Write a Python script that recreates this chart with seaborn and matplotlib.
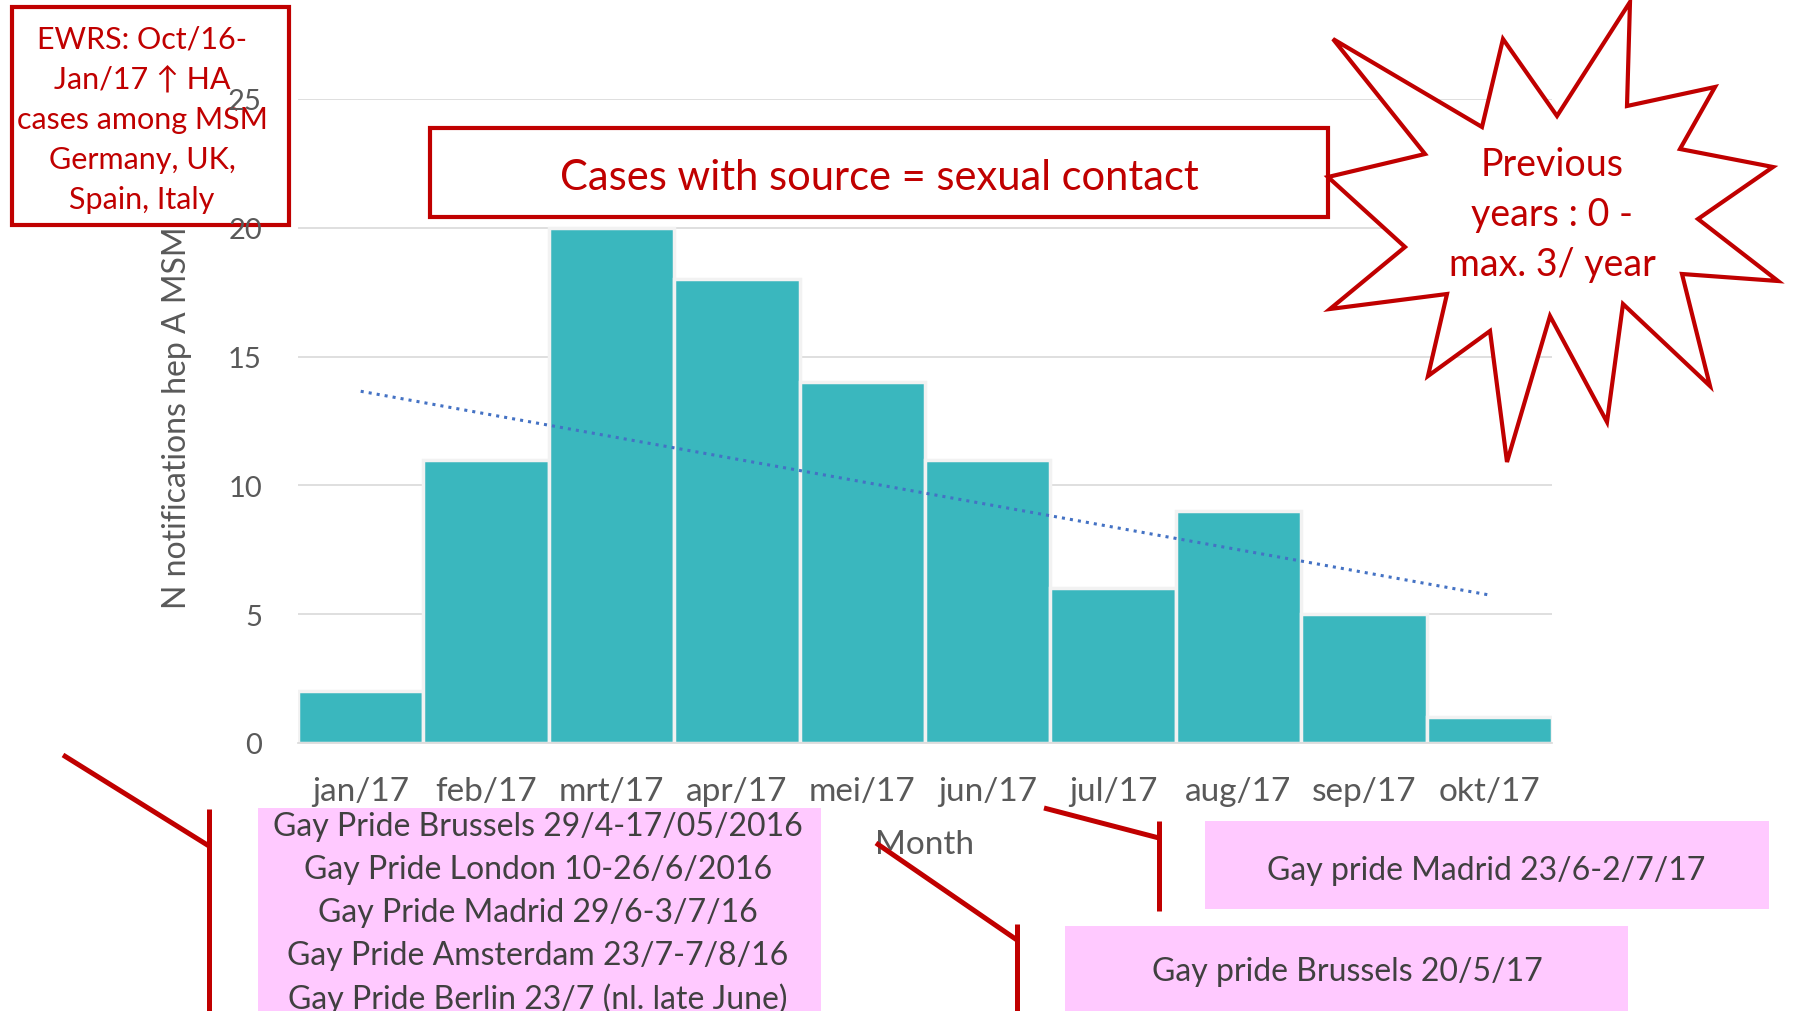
import numpy as np
import matplotlib
matplotlib.use("Agg")
import matplotlib.pyplot as plt
import matplotlib.transforms as mtransforms
from matplotlib.patches import Rectangle, Polygon
from matplotlib.lines import Line2D
import seaborn as sns

# data
months = ["jan/17", "feb/17", "mrt/17", "apr/17", "mei/17",
          "jun/17", "jul/17", "aug/17", "sep/17", "okt/17"]
counts = [2, 11, 20, 18, 14, 11, 6, 9, 5, 1]
yticks = [0, 5, 10, 15, 20, 25]

title_txt = "Cases with source = sexual contact"
ewrs_lines = ["EWRS: Oct/16-", "Jan/17 \u2191 HA", "cases among MSM",
              "Germany, UK,", "Spain, Italy"]
star_lines = ["Previous", "years : 0 -", "max. 3/ year"]
pride_2016 = ["Gay Pride Brussels 29/4-17/05/2016",
              "Gay Pride London 10-26/6/2016",
              "Gay Pride Madrid 29/6-3/7/16",
              "Gay Pride Amsterdam 23/7-7/8/16",
              "Gay Pride Berlin 23/7 (nl. late June)"]
pride_madrid = "Gay pride Madrid 23/6-2/7/17"
pride_brussels = "Gay pride Brussels 20/5/17"

sns.set_theme(style="white")
plt.rcParams['font.family'] = ['Lato', 'DejaVu Sans']

W, H = 1795, 1012
red = "#C00000"
grey = "#595959"
pink = "#FFC9FF"
dark = "#404040"

fig = plt.figure(figsize=(W / 100, H / 100), dpi=100)
ax = fig.add_axes([298 / W, 1 - 744 / H, (1552 - 298) / W, (744 - 100) / H])
ax.set_zorder(1)
ax.patch.set_alpha(0)

# pixel coords of the reference (origin top-left)
px = mtransforms.Affine2D().scale(1, -1).translate(0, H)

sns.barplot(x=months, y=counts, color="#3AB7BE", saturation=1, width=1,
            edgecolor="#F2F2F2", linewidth=2.5, ax=ax)
sns.regplot(x=np.arange(len(counts)), y=counts, scatter=False, ci=None,
            line_kws=dict(color="#4472C4", linestyle=":", linewidth=2.2), ax=ax)

ax.set_xlim(-0.5, len(months) - 0.5)
ax.set_ylim(0, 25)
ax.set_yticks(yticks)
ax.yaxis.grid(True, color="#D9D9D9", linewidth=1.2)
ax.set_axisbelow(True)
for s in ["top", "right", "left"]:
    ax.spines[s].set_visible(False)
ax.spines["bottom"].set_color("#D9D9D9")
ax.spines["bottom"].set_linewidth(1.2)

ax.tick_params(axis="y", length=0, pad=26, labelsize=21, labelcolor=grey)
ax.tick_params(axis="x", which="major", length=0, pad=24, labelsize=24, labelcolor=grey)
ax.set_xticks(np.arange(-0.5, len(months)), minor=True)
ax.tick_params(axis="x", which="minor", length=9, width=1.2, color="#D9D9D9")

ax.set_xlabel("Month", fontsize=24, color=grey)
ax.xaxis.set_label_coords(0.5, -0.134)
ax.set_ylabel("")

# y label lies under the EWRS box
fig.text(177, 418, "N notifications hep A MSM", transform=px, rotation=90,
         ha="center", va="center", fontsize=23, color=grey, zorder=0.2)

# EWRS box
fig.patches.append(Rectangle((12, 8), 277, 218, transform=px, fill=True,
                             facecolor="white", edgecolor=red, linewidth=3, zorder=0.5))
for i, t in enumerate(ewrs_lines):
    fig.text(142, 40 + 40 * i, t, transform=px, ha="center", va="center",
             fontsize=22, color=red, zorder=0.6)

# title box
fig.patches.append(Rectangle((430, 129), 898, 89, transform=px, facecolor="white",
                             edgecolor=red, linewidth=3, zorder=2))
fig.text(879, 178, title_txt, transform=px, ha="center", va="center",
         fontsize=30, color=red, zorder=3)

# star
star = [(1630, 3), (1557, 117), (1503, 40), (1482, 128), (1333, 40), (1425, 155),
        (1328, 178), (1405, 248), (1330, 310), (1447, 295), (1428, 377), (1490, 332),
        (1507, 463), (1550, 317), (1607, 423), (1623, 305), (1710, 387), (1682, 275),
        (1778, 282), (1698, 220), (1773, 168), (1680, 150), (1715, 88), (1627, 107)]
fig.patches.append(Polygon(star, closed=True, transform=px, facecolor="white",
                           edgecolor=red, linewidth=3, zorder=2))
for i, t in enumerate(star_lines):
    fig.text(1552, 165 + 50 * i, t, transform=px, ha="center", va="center",
             fontsize=27, color=red, zorder=3)

# pink boxes
fig.patches.append(Rectangle((258, 809), 563, 210, transform=px, facecolor=pink,
                             edgecolor="none", zorder=2))
for i, t in enumerate(pride_2016):
    fig.text(538, 827 + 43 * i, t, transform=px, ha="center", va="center",
             fontsize=23, color=dark, zorder=3)
fig.patches.append(Rectangle((1205, 822), 564, 88, transform=px, facecolor=pink,
                             edgecolor="none", zorder=2))
fig.text(1486, 871, pride_madrid, transform=px, ha="center", va="center",
         fontsize=23, color=dark, zorder=3)
fig.patches.append(Rectangle((1065, 927), 563, 90, transform=px, facecolor=pink,
                             edgecolor="none", zorder=2))
fig.text(1347, 972, pride_brussels, transform=px, ha="center", va="center",
         fontsize=23, color=dark, zorder=3)

# red callout brackets
for seg in [[(63, 756), (209, 847)], [(209, 810), (209, 1012)],
            [(1044, 809), (1159, 839)], [(1159, 822), (1159, 912)],
            [(876, 844), (1017, 941)], [(1017, 925), (1017, 1012)]]:
    xs, ys = zip(*seg)
    fig.lines.append(Line2D(xs, ys, transform=px, color=red, linewidth=3.6,
                            solid_capstyle="butt", zorder=4))

fig.savefig("out.png", dpi=100)
